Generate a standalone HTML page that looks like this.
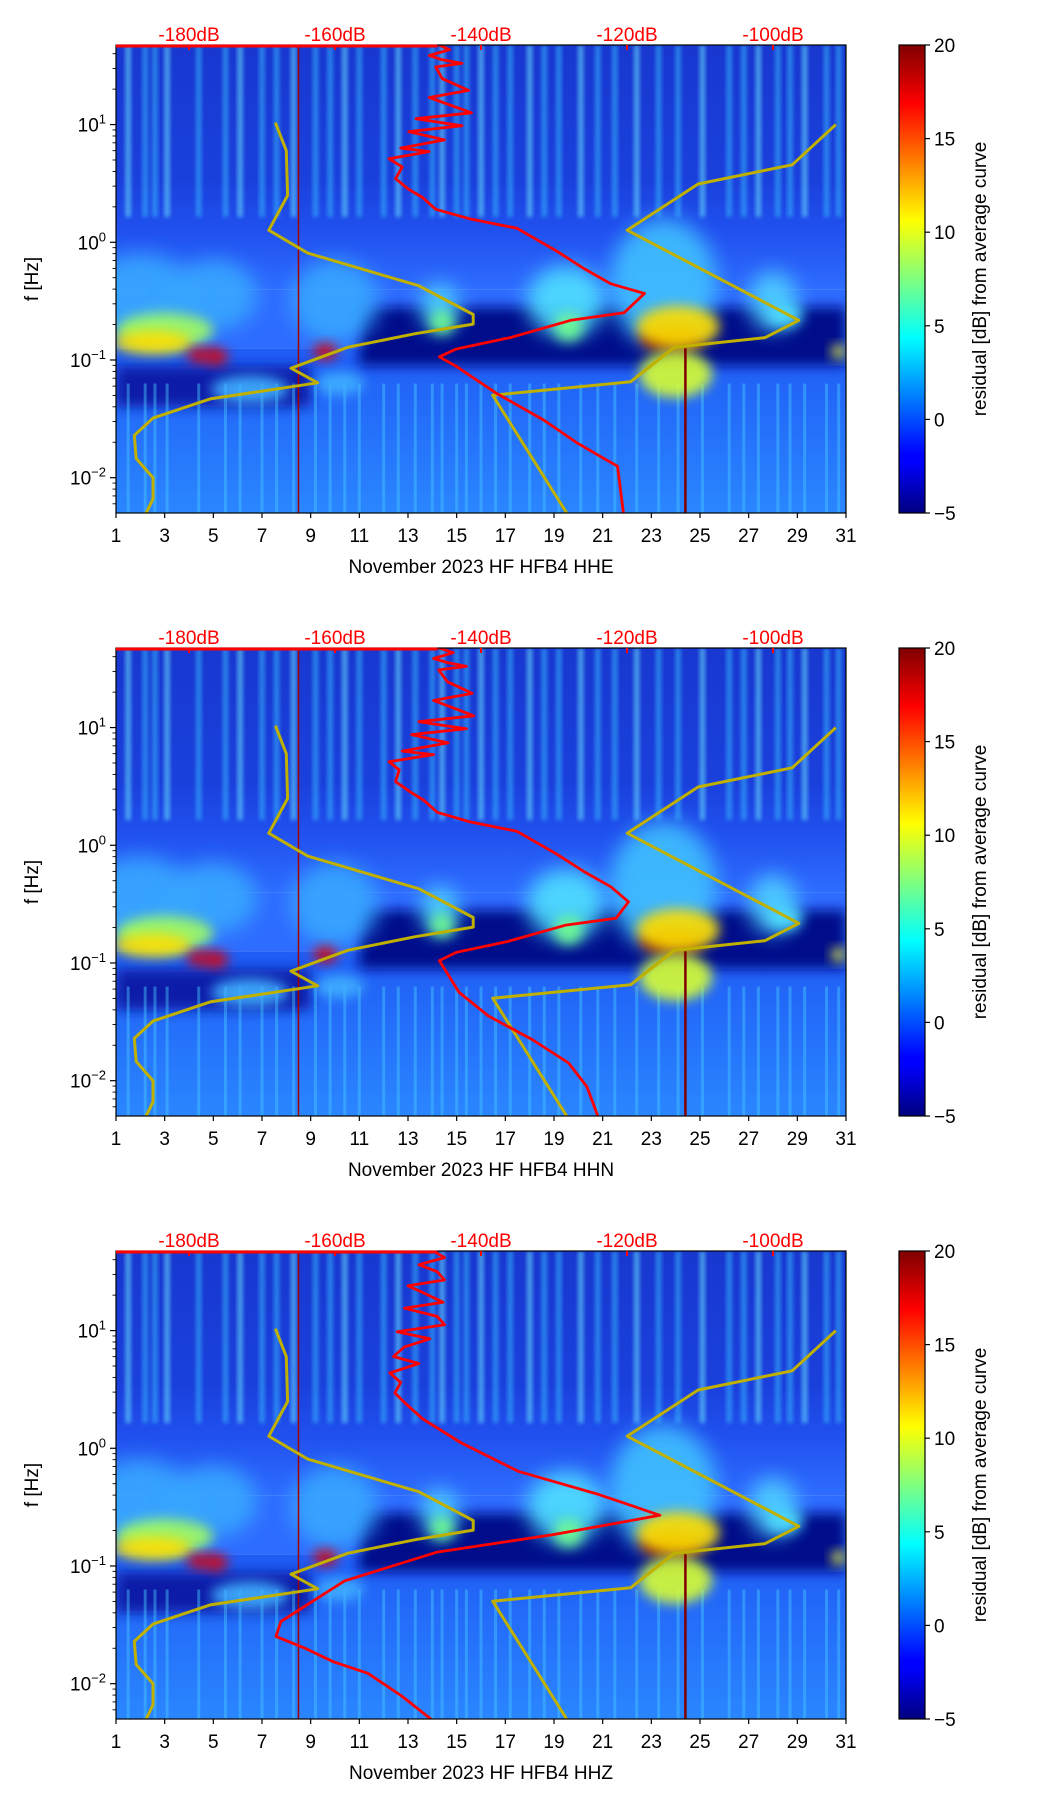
<!DOCTYPE html>
<html><head><meta charset="utf-8"><style>
html,body{margin:0;padding:0;background:#fff;}
svg{display:block;font-family:"Liberation Sans","DejaVu Sans",sans-serif;}
</style></head><body>
<svg id="fig" width="1052" height="1806" viewBox="0 0 1052 1806" xmlns="http://www.w3.org/2000/svg">
<defs>
<filter id="blur6" x="-50%" y="-50%" width="200%" height="200%"><feGaussianBlur stdDeviation="6"/></filter>
<filter id="blur10" x="-50%" y="-50%" width="200%" height="200%"><feGaussianBlur stdDeviation="10"/></filter>
<filter id="blur3" x="-50%" y="-50%" width="200%" height="200%"><feGaussianBlur stdDeviation="2"/></filter>
<linearGradient id="jet" x1="0" y1="1" x2="0" y2="0">
<stop offset="0" stop-color="#00007f"/><stop offset="0.11" stop-color="#0000ff"/><stop offset="0.125" stop-color="#0000ff"/>
<stop offset="0.375" stop-color="#00ffff"/><stop offset="0.5" stop-color="#7fff7f"/><stop offset="0.625" stop-color="#ffff00"/>
<stop offset="0.875" stop-color="#ff0000"/><stop offset="1" stop-color="#7f0000"/>
</linearGradient>
<linearGradient id="lowgrad" x1="0" y1="0" x2="0" y2="1">
<stop offset="0" stop-color="#1f5cf5"/><stop offset="1" stop-color="#2a86ff"/>
</linearGradient>
<linearGradient id="topgrad" x1="0" y1="0" x2="0" y2="1">
<stop offset="0" stop-color="#1838d0"/><stop offset="0.55" stop-color="#1a40dc"/><stop offset="0.75" stop-color="#2050ee"/><stop offset="1" stop-color="#2e6cff"/>
</linearGradient>
</defs>
</svg>
<script>
// ---- data ----
const dayTicks = [1,3,5,7,9,11,13,15,17,19,21,23,25,27,29,31];
const dbTicks = [-180,-160,-140,-120,-100];
const cbTicks = [-5,0,5,10,15,20];
const yDecades = [1,0,-1,-2];
const titles = ["November 2023 HF HFB4  HHE","November 2023 HF HFB4  HHN","November 2023 HF HFB4  HHZ"];

// yellow reference curve (day, log10 f)
const yelLeftDay = [7.55,8.0,8.05,7.28,8.88,13.44,15.68,15.68,13.30,10.54,8.19,9.29,4.87,2.52,1.75,1.83,2.52,2.52,2.24];
const yelLeftLf  = [1.016,0.778,0.397,0.103,-0.092,-0.369,-0.614,-0.695,-0.777,-0.891,-1.070,-1.194,-1.331,-1.494,-1.641,-1.837,-2.0,-2.179,-2.30];
const yelRightDay = [30.58,28.79,24.92,22.01,29.06,27.68,23.95,22.15,16.48,19.52];
const yelRightLf  = [1.0,0.658,0.495,0.103,-0.663,-0.810,-0.891,-1.185,-1.299,-2.30];

// red curves (dB, log10 f)
const red1Db = [-190,-145.7,-144.3,-147.1,-145.3,-142.6,-146.2,-145.3,-141.7,-147.1,-144,-141.3,-148.9,-142.6,-149.9,-145,-151,-147.1,-152.6,-150.8,-151.7,-149.9,-148.0,-146.2,-141.6,-135.1,-129.6,-125.9,-122.2,-117.6,-120.4,-127.7,-136.0,-143.4,-145.7,-143.4,-137.9,-131.4,-126.8,-124.1,-121.3,-120.5];
const red1Lf = [1.675,1.675,1.636,1.587,1.55,1.52,1.49,1.39,1.29,1.23,1.16,1.10,1.05,0.99,0.94,0.87,0.80,0.77,0.71,0.64,0.54,0.45,0.38,0.28,0.20,0.12,-0.076,-0.223,-0.353,-0.435,-0.598,-0.663,-0.81,-0.907,-0.973,-1.054,-1.282,-1.511,-1.706,-1.804,-1.902,-2.30];
const red2Db = [-190,-145.7,-143.8,-146.5,-144.5,-142.0,-145.8,-144.6,-141.2,-146.5,-143.5,-141.0,-148.5,-142.0,-149.5,-144.5,-150.8,-146.5,-152.6,-151.2,-151.7,-149.6,-147.8,-146.0,-141.6,-135.1,-129.6,-125.9,-122.2,-119.8,-121.5,-128.5,-136.5,-143.4,-145.7,-143.0,-139.0,-133.0,-128.0,-125.5,-124.0];
const red2Lf = [1.675,1.675,1.636,1.587,1.55,1.52,1.49,1.39,1.29,1.23,1.16,1.10,1.05,0.99,0.94,0.87,0.80,0.77,0.71,0.64,0.54,0.45,0.38,0.28,0.20,0.12,-0.076,-0.223,-0.353,-0.48,-0.62,-0.68,-0.82,-0.91,-0.98,-1.25,-1.45,-1.65,-1.85,-2.05,-2.30];
const red3Db = [-190,-146.5,-145.0,-148.5,-146.0,-145.0,-150.0,-147.5,-145.2,-150.5,-146.0,-145.0,-151.5,-147.0,-150.5,-152.0,-148.5,-152.5,-151.0,-151.8,-150.5,-148.0,-142.8,-134.9,-123.9,-115.5,-130.2,-146.0,-158.7,-167.4,-168.1,-164.2,-160.2,-155.5,-150.8,-146.8];
const red3Lf = [1.675,1.675,1.62,1.56,1.50,1.43,1.38,1.31,1.24,1.19,1.12,1.05,0.99,0.93,0.86,0.78,0.72,0.64,0.56,0.47,0.39,0.25,0.049,-0.196,-0.392,-0.569,-0.735,-0.882,-1.127,-1.471,-1.598,-1.696,-1.814,-1.912,-2.108,-2.304];
const redDb = [red1Db, red2Db, red3Db];
const redLf = [red1Lf, red2Lf, red3Lf];

// spectrogram texture: streak days, blob list
const streakDays = [1.5,2.2,2.6,3.1,4.4,5.5,6.1,7.0,7.6,8.3,9.2,9.8,10.4,11.0,12.0,12.6,13.3,14.0,14.4,15.0,15.4,16.0,16.6,17.2,18.0,18.6,19.2,20.1,20.8,21.5,22.4,23.3,24.1,25.1,26.2,26.8,27.4,28.2,28.7,29.3,30.2,30.7];
const blobDay = [2.0,5.0,10.0,14.3,19.5,23.5,28.0,3.0,2.5,4.4,5.1,9.6,23.8,24.1,24.0,14.4,19.6,28.5,30.7,6.5,10.2];
const blobLf  = [-0.45,-0.45,-0.5,-0.55,-0.5,-0.35,-0.5,-0.75,-0.85,-0.96,-0.97,-0.93,-0.82,-0.72,-1.12,-0.68,-0.72,-0.62,-0.93,-1.25,-1.2];
const blobRx  = [2.2,1.8,1.8,0.8,1.6,2.2,1.0,2.0,1.6,0.5,0.5,0.5,1.3,1.7,1.5,0.5,0.6,0.7,0.3,1.6,1.0];
const blobRy  = [0.35,0.3,0.35,0.2,0.3,0.55,0.25,0.15,0.1,0.06,0.07,0.07,0.12,0.18,0.2,0.1,0.12,0.1,0.06,0.12,0.1];
const blobCol = ["#38a8ff","#38a8ff","#38a8ff","#50d8ff","#50e0ff","#40c0ff","#50d0ff","#a0ff60","#ffe000","#e00000","#e00000","#e00000","#8a0000","#ffe000","#d8ff30","#70ff90","#70ff90","#50e0ff","#f0ff40","#40b0ff","#40b0ff"];

// ---- layout ----
const svg = document.getElementById('fig');
const NS = "http://www.w3.org/2000/svg";
const L = 116, R = 846, PH = 468, LFTOP = 1.676, LFBOT = -2.30;
const tops = [45, 648, 1251];
function mk(tag, attrs, parent){ const e=document.createElementNS(NS,tag); for(const k in attrs) e.setAttribute(k,attrs[k]); (parent||svg).appendChild(e); return e; }
const xDay = d => L + (d-1)/30*(R-L);
const xDb = db => xDay(4.0 + (db+180)/20*6.0);
function yLf(top, lf){ return top + (LFTOP-lf)/(LFTOP-LFBOT)*PH; }

tops.forEach((top, p) => {
  const g = mk('g', {});
  
  
  const cid = 'clip'+p;
  const cp = mk('clipPath', {id: cid}, g); mk('rect', {x:L, y:top, width:R-L, height:PH}, cp);
  const sp = mk('g', {'clip-path':'url(#'+cid+')'}, g);
  
  
  const y03 = yLf(top, 0.3), ym = yLf(top, -0.9), ym0 = yLf(top, -0.4);
  mk('rect', {x:L, y:top, width:R-L, height:ym0-top, fill:'url(#topgrad)'}, sp);
  mk('rect', {x:L, y:ym0, width:R-L, height:ym-ym0, fill:'#2e6cff'}, sp);
  mk('rect', {x:L, y:ym, width:R-L, height:top+PH-ym, fill:'url(#lowgrad)'}, sp);
  // dark navy band
  mk('rect', {x:xDay(11), y:yLf(top,-0.55), width:R-xDay(11), height:yLf(top,-1.05)-yLf(top,-0.55), fill:'#000a8a', filter:'url(#blur6)'}, sp);
  mk('rect', {x:xDay(1), y:yLf(top,-1.05), width:xDay(9)-xDay(1), height:yLf(top,-1.4)-yLf(top,-1.05), fill:'#0a1aa8', filter:'url(#blur6)'}, sp);
  streakDays.forEach((d,i) => {
    const s = mk('rect', {x:xDay(d)-2.5, y:top, width:5, height:y03-top+10, fill:(i%3===0?'#70f0ff':'#38c0ff'), opacity:0.6, filter:'url(#blur3)'}, sp);
    
    
    const s2 = mk('rect', {x:xDay(d)-1.5, y:yLf(top,-1.2), width:3, height:top+PH-yLf(top,-1.2), fill:'#48c8ff', opacity:0.45}, sp);
    
    
  });
  blobDay.forEach((d,i) => {
    const rx = blobRx[i]/30*(R-L), ry = blobRy[i]/(LFTOP-LFBOT)*PH;
    const b = mk('ellipse', {cx:xDay(d), cy:yLf(top, blobLf[i]), rx:rx, ry:ry, fill:blobCol[i], opacity:0.9, filter:(i<7?'url(#blur10)':'url(#blur6)')}, sp);
    
    
  });
  mk('line', {x1:xDay(24.4), y1:yLf(top,-0.9), x2:xDay(24.4), y2:top+PH, stroke:'#800000', 'stroke-width':2.5}, sp);
  mk('line', {x1:xDay(8.5), y1:top, x2:xDay(8.5), y2:top+PH, stroke:'#a00000', 'stroke-width':1.5}, sp);
  // yellow curves
  [[yelLeftDay,yelLeftLf],[yelRightDay,yelRightLf]].forEach((c,k) => {
    const pts = c[0].map((d,i) => xDay(d).toFixed(1)+','+yLf(top,c[1][i]).toFixed(1)).join(' ');
    const pl = mk('polyline', {points:pts, fill:'none', stroke:'#c0b000', 'stroke-width':3, 'stroke-linejoin':'round'}, sp);
    
    
  });
  // red curve
  const pts = redDb[p].map((v,i) => xDb(v).toFixed(1)+','+yLf(top,redLf[p][i]).toFixed(1)).join(' ');
  const rl = mk('polyline', {points:pts, fill:'none', stroke:'#ff0000', 'stroke-width':2.8, 'stroke-linejoin':'round'}, sp);
  
  
  // frame
  const fr = mk('rect', {x:L, y:top, width:R-L, height:PH, fill:'none', stroke:'#000', 'stroke-width':1.2}, g);
  
  
  mk('line', {x1:L, y1:top+1, x2:xDb(-146), y2:top+1, stroke:'#ff0000', 'stroke-width':3}, g);
  // x ticks
  dayTicks.forEach(d => {
    mk('line', {x1:xDay(d), y1:top+PH, x2:xDay(d), y2:top+PH+5, stroke:'#000', 'stroke-width':1.2}, g);
    const t = mk('text', {x:xDay(d), y:top+PH+29, 'font-size':19, 'text-anchor':'middle', fill:'#000'}, g);
    t.textContent = d;
    
    
  });
  const xt = mk('text', {x:(L+R)/2, y:top+PH+60, 'font-size':19, 'text-anchor':'middle', fill:'#000'}, g);
  xt.textContent = titles[p];
  
  
  // top dB ticks
  dbTicks.forEach(v => {
    mk('line', {x1:xDb(v), y1:top, x2:xDb(v), y2:top+5, stroke:'#ff0000', 'stroke-width':2}, g);
    const t = mk('text', {x:xDb(v), y:top-4, 'font-size':19, 'text-anchor':'middle', fill:'#ff0000'}, g);
    t.textContent = v + 'dB';
    
    
  });
  // y ticks
  yDecades.forEach(e => {
    const y = yLf(top, e);
    mk('line', {x1:L-6, y1:y, x2:L, y2:y, stroke:'#000', 'stroke-width':1.2}, g);
    const t = mk('text', {x:L-10, y:y+7, 'font-size':19, 'text-anchor':'end', fill:'#000'}, g);
    
    
    const a = document.createElementNS(NS,'tspan'); a.textContent='10'; t.appendChild(a);
    const b = document.createElementNS(NS,'tspan'); b.setAttribute('dy','-8'); b.setAttribute('font-size','13'); b.textContent = e<0 ? '\u2212'+(-e) : ''+e; t.appendChild(b);
  });
  for (let e=-3; e<=1; e++) for (let m=2; m<=9; m++) {
    const lf = e + Math.log10(m);
    if (lf < LFBOT || lf > LFTOP) continue;
    const y = yLf(top, lf);
    mk('line', {x1:L-3.5, y1:y, x2:L, y2:y, stroke:'#000', 'stroke-width':0.9}, g);
  }
  const yt = mk('text', {x:0, y:0, 'font-size':19, 'text-anchor':'middle', fill:'#000', transform:'translate(38,'+(top+PH/2)+') rotate(-90)'}, g);
  yt.textContent = 'f [Hz]';
  
  
  // colorbar
  const cx = 899, cw = 26;
  const cb = mk('rect', {x:cx, y:top, width:cw, height:PH, fill:'url(#jet)', stroke:'#000', 'stroke-width':1.2}, g);
  
  
  cbTicks.forEach(v => {
    const y = top + PH - (v+5)/25*PH;
    mk('line', {x1:cx+cw, y1:y, x2:cx+cw+5, y2:y, stroke:'#000', 'stroke-width':1.2}, g);
    const t = mk('text', {x:cx+cw+9, y:y+7, 'font-size':19, fill:'#000'}, g);
    t.textContent = v<0 ? '\u2212'+(-v) : ''+v;
    
    
  });
  const cl = mk('text', {x:0, y:0, 'font-size':19, 'text-anchor':'middle', fill:'#000', transform:'translate(986,'+(top+PH/2)+') rotate(-90)'}, g);
  cl.textContent = 'residual [dB] from average curve';
  
  
});
</script>
</body></html>
